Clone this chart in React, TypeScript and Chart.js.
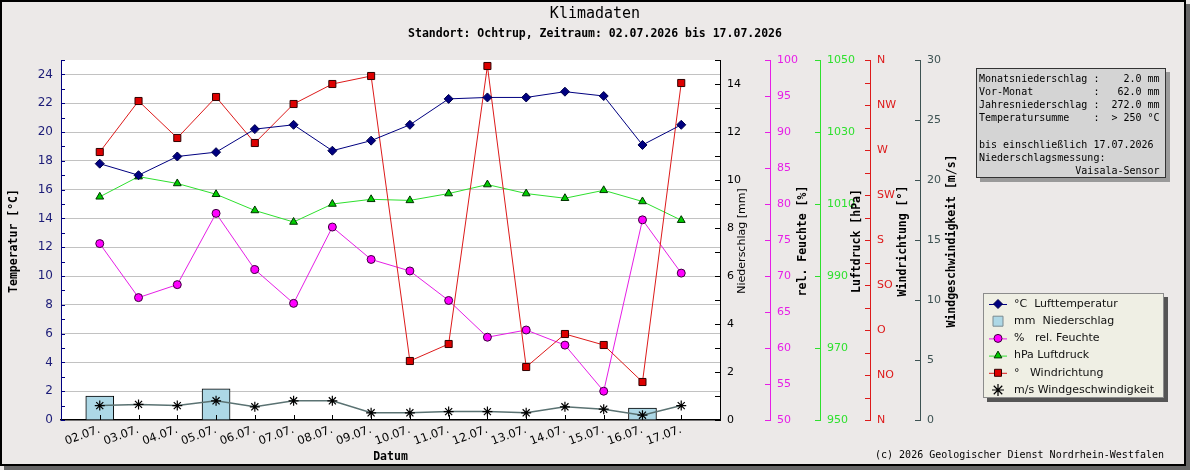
import React, { useEffect, useRef } from 'react';
import { Chart, registerables } from 'chart.js';

Chart.register(...registerables);

// ---- data ----
const TITLE = 'Klimadaten';
const SUBTITLE = 'Standort: Ochtrup, Zeitraum: 02.07.2026 bis 17.07.2026';
const X_TITLE = 'Datum';
const FOOTER = '(c) 2026 Geologischer Dienst Nordrhein-Westfalen';

const DATES = [
  '02.07.', '03.07.', '04.07.', '05.07.', '06.07.', '07.07.', '08.07.', '09.07.',
  '10.07.', '11.07.', '12.07.', '13.07.', '14.07.', '15.07.', '16.07.', '17.07.',
];
const TEMPERATURE = [17.8, 17.0, 18.3, 18.6, 20.2, 20.5, 18.7, 19.4, 20.5, 22.3, 22.4, 22.4, 22.8, 22.5, 19.1, 20.5];
const PRECIP_DAYS = ['02.07.', '05.07.', '16.07.'];
const PRECIP_MM = [1.0, 1.3, 0.5];
const HUMIDITY = [74.5, 67.0, 68.8, 78.7, 70.9, 66.2, 76.8, 72.3, 70.7, 66.6, 61.5, 62.5, 60.4, 54.0, 77.8, 70.4];
const PRESSURE = [1012.0, 1017.6, 1015.7, 1012.7, 1008.2, 1005.0, 1010.0, 1011.3, 1011.0, 1012.9, 1015.4, 1012.9, 1011.6, 1013.8, 1010.7, 1005.5];
const WIND_DIR = [268, 319, 282, 323, 277, 316, 336, 344, 59, 76, 354, 53, 86, 75, 38, 337];
const WIND_SPEED = [1.2, 1.3, 1.2, 1.6, 1.1, 1.6, 1.6, 0.6, 0.6, 0.7, 0.7, 0.6, 1.1, 0.9, 0.4, 1.2];
const DIRECTION_LABELS = ['N', 'NO', 'O', 'SO', 'S', 'SW', 'W', 'NW', 'N'];

const LEGEND_LABELS = [
  '°C  Lufttemperatur',
  'mm  Niederschlag',
  '%   rel. Feuchte',
  'hPa Luftdruck',
  '°   Windrichtung',
  'm/s Windgeschwindigkeit',
];

const INFO_LINES = [
  'Monatsniederschlag :    2.0 mm',
  'Vor-Monat          :   62.0 mm',
  'Jahresniederschlag :  272.0 mm',
  'Temperatursumme    :  > 250 °C',
  '',
  'bis einschließlich 17.07.2026',
  'Niederschlagsmessung:',
  '                Vaisala-Sensor',
];

// ---- styles ----
const W = 1190;
const H = 470;
const BG = '#ece9e8';
const C_TEMP = '#000080';
const C_TEMP_TICK = '#1c1c78';
const C_HUM = '#e61ee6';
const C_PRESS = '#2ee02e';
const C_DIR = '#dd1a1a';
const C_SPEED = '#3d5252';
const SANS = '"DejaVu Sans", sans-serif';
const MONO = '"DejaVu Sans Mono", monospace';
const MONO_BOLD = `bold 11.5px ${MONO}`;

const pts = (vals: number[]) => vals.map((y, i) => ({ x: i, y }));

const framePlugin = {
  id: 'frame',
  beforeDraw(chart: any) {
    const { ctx, chartArea: a } = chart;
    ctx.save();
    ctx.fillStyle = BG;
    ctx.fillRect(0, 0, W, H);
    ctx.fillStyle = '#666666';
    ctx.fillRect(4, 4, W - 4, H - 4);
    ctx.fillStyle = BG;
    ctx.fillRect(0, 0, W - 4, H - 4);
    ctx.strokeStyle = '#000';
    ctx.lineWidth = 2;
    ctx.strokeRect(1, 1, W - 6, H - 6);
    ctx.fillStyle = '#ffffff';
    ctx.fillRect(a.left, a.top, a.right - a.left, a.bottom - a.top);
    ctx.restore();
  },
};

function drawMarker(ctx: CanvasRenderingContext2D, kind: string, x: number, y: number, fill: string, stroke: string) {
  ctx.beginPath();
  if (kind === 'diamond') {
    ctx.moveTo(x - 4.5, y); ctx.lineTo(x, y - 4.5); ctx.lineTo(x + 4.5, y); ctx.lineTo(x, y + 4.5); ctx.closePath();
  } else if (kind === 'circle') {
    ctx.arc(x, y, 4, 0, Math.PI * 2);
  } else if (kind === 'triangle') {
    ctx.moveTo(x, y - 4.5); ctx.lineTo(x + 3.9, y + 2.3); ctx.lineTo(x - 3.9, y + 2.3); ctx.closePath();
  } else if (kind === 'square') {
    ctx.rect(x - 3.5, y - 3.5, 7, 7);
  } else if (kind === 'box') {
    ctx.rect(x - 5, y - 5, 10, 10);
  }
  if (kind === 'star') {
    ctx.strokeStyle = stroke;
    ctx.lineWidth = 1.2;
    for (let k = 0; k < 4; k++) {
      const ang = (k * Math.PI) / 4;
      ctx.moveTo(x - Math.cos(ang) * 6, y - Math.sin(ang) * 6);
      ctx.lineTo(x + Math.cos(ang) * 6, y + Math.sin(ang) * 6);
    }
    ctx.stroke();
    return;
  }
  ctx.fillStyle = fill;
  ctx.fill();
  ctx.strokeStyle = stroke;
  ctx.lineWidth = 1;
  ctx.stroke();
}

const decorPlugin = {
  id: 'decor',
  afterDraw(chart: any) {
    const { ctx, chartArea: a, scales } = chart;
    ctx.save();

    // tick marks on the plot side of every axis line
    const yAxes: [string, string][] = [['yT', C_TEMP], ['yP', '#000'], ['yH', C_HUM], ['yL', C_PRESS], ['yD', C_DIR], ['yS', C_SPEED]];
    ctx.lineWidth = 1;
    yAxes.forEach(([id, color]) => {
      const s = scales[id];
      ctx.strokeStyle = color;
      ctx.beginPath();
      s.ticks.forEach((t: any) => {
        const py = Math.round(s.getPixelForValue(t.value)) + 0.5;
        if (id === 'yT') {
          ctx.moveTo(s.right, py); ctx.lineTo(s.right + 4, py);
        } else {
          ctx.moveTo(s.left - 5, py); ctx.lineTo(s.left, py);
        }
      });
      ctx.stroke();
    });
    const sx = scales.x;
    ctx.strokeStyle = '#000';
    ctx.beginPath();
    DATES.forEach((_, i) => {
      const px = Math.round(sx.getPixelForValue(i)) + 0.5;
      ctx.moveTo(px, a.bottom); ctx.lineTo(px, a.bottom - 5);
    });
    ctx.stroke();

    // titles
    ctx.fillStyle = '#000';
    ctx.textAlign = 'center';
    ctx.textBaseline = 'middle';
    ctx.font = `15px ${MONO}`;
    ctx.fillText(TITLE, W / 2, 14);
    ctx.font = MONO_BOLD;
    ctx.fillText(SUBTITLE, W / 2, 34);
    ctx.fillText(X_TITLE, (a.left + a.right) / 2, 457);

    // axis titles, all reading bottom-to-top
    const cy = (a.top + a.bottom) / 2 + 1;
    const titles: [string, number, string][] = [
      ['Temperatur [°C]', scales.yT.left + 14, MONO_BOLD],
      ['Niederschlag [mm]', scales.yP.left + 22, `11px ${SANS}`],
      ['rel. Feuchte [%]', scales.yH.left + 33, MONO_BOLD],
      ['Luftdruck [hPa]', scales.yL.left + 37, MONO_BOLD],
      ['Windrichtung [°]', scales.yD.left + 33, MONO_BOLD],
      ['Windgeschwindigkeit [m/s]', scales.yS.left + 32, MONO_BOLD],
    ];
    titles.forEach(([text, x, font]) => {
      ctx.save();
      ctx.translate(x, cy);
      ctx.rotate(-Math.PI / 2);
      ctx.font = font;
      ctx.fillText(text, 0, 0);
      ctx.restore();
    });

    // info box
    ctx.fillStyle = '#9a9a9a';
    ctx.fillRect(980, 72, 190, 110);
    ctx.fillStyle = '#d4d4d4';
    ctx.fillRect(976, 68, 190, 110);
    ctx.strokeStyle = '#333';
    ctx.strokeRect(976.5, 68.5, 189, 109);
    ctx.fillStyle = '#000';
    ctx.textAlign = 'left';
    ctx.font = `10px ${MONO}`;
    INFO_LINES.forEach((line, k) => ctx.fillText(line, 979, 79.5 + k * 13.1));

    // legend
    ctx.fillStyle = '#555555';
    ctx.fillRect(987, 297, 181, 105);
    ctx.fillStyle = '#efefe4';
    ctx.fillRect(983, 293, 181, 105);
    ctx.strokeStyle = '#8c8c8c';
    ctx.strokeRect(983.5, 293.5, 180, 104);
    const markers: [string, string, string, string | null][] = [
      ['diamond', C_TEMP, '#00004a', C_TEMP],
      ['box', '#add8e6', '#7a8a90', null],
      ['circle', '#ff00ff', '#3a003a', C_HUM],
      ['triangle', '#00cc00', '#003300', C_PRESS],
      ['square', '#dd0000', '#300000', C_DIR],
      ['star', '#000', '#000', null],
    ];
    LEGEND_LABELS.forEach((label, k) => {
      const y = 304 + k * 17.2;
      const [kind, fill, stroke, line] = markers[k];
      if (line) {
        ctx.strokeStyle = line;
        ctx.lineWidth = 1;
        ctx.beginPath();
        ctx.moveTo(989, y + 0.5); ctx.lineTo(1007, y + 0.5);
        ctx.stroke();
      }
      drawMarker(ctx, kind, 998, y, fill, stroke);
      ctx.fillStyle = '#111';
      ctx.font = `11px ${SANS}`;
      ctx.textAlign = 'left';
      ctx.fillText(label, 1014, y);
    });

    // footer
    ctx.fillStyle = '#000';
    ctx.font = `10px ${MONO}`;
    ctx.textAlign = 'right';
    ctx.fillText(FOOTER, 1164, 455);

    ctx.restore();
  },
};

function rightAxis(weight: number, min: number, max: number, step: number, color: string, label: (v: number) => string) {
  return {
    type: 'linear' as const,
    position: 'right' as const,
    weight,
    min,
    max,
    ticks: {
      stepSize: step,
      autoSkip: false,
      padding: 7,
      color,
      font: { family: SANS, size: 11 },
      callback: (v: any) => label(Number(v)),
    },
    grid: { drawOnChartArea: false, drawTicks: false },
    border: { color, width: 1 },
    afterFit: (s: any) => { s.width = 50; },
  };
}

export default function App() {
  const canvasRef = useRef<HTMLCanvasElement | null>(null);

  useEffect(() => {
    const canvas = canvasRef.current;
    if (!canvas) return;
    const chart = new Chart(canvas, {
      type: 'line',
      data: {
        datasets: [
          {
            type: 'line', label: 'Lufttemperatur', data: pts(TEMPERATURE), yAxisID: 'yT',
            borderColor: C_TEMP, borderWidth: 1, tension: 0,
            pointStyle: 'rectRot', pointRadius: 4.5, pointBackgroundColor: C_TEMP, pointBorderColor: '#00004a', pointBorderWidth: 1,
          },
          {
            type: 'line', label: 'Windrichtung', data: pts(WIND_DIR), yAxisID: 'yD',
            borderColor: C_DIR, borderWidth: 1, tension: 0,
            pointStyle: 'rect', pointRadius: 5, pointBackgroundColor: '#dd0000', pointBorderColor: '#300000', pointBorderWidth: 1,
          },
          {
            type: 'line', label: 'rel. Feuchte', data: pts(HUMIDITY), yAxisID: 'yH',
            borderColor: C_HUM, borderWidth: 1, tension: 0,
            pointStyle: 'circle', pointRadius: 4, pointBackgroundColor: '#ff00ff', pointBorderColor: '#3a003a', pointBorderWidth: 1,
          },
          {
            type: 'line', label: 'Luftdruck', data: pts(PRESSURE), yAxisID: 'yL',
            borderColor: C_PRESS, borderWidth: 1, tension: 0,
            pointStyle: 'triangle', pointRadius: 4.5, pointBackgroundColor: '#00cc00', pointBorderColor: '#003300', pointBorderWidth: 1,
          },
          {
            type: 'line', label: 'Windgeschwindigkeit', data: pts(WIND_SPEED), yAxisID: 'yS',
            borderColor: '#5a7272', borderWidth: 1.5, tension: 0,
            pointStyle: 'star', pointRadius: 5, pointBackgroundColor: '#000', pointBorderColor: '#000', pointBorderWidth: 1.2,
          },
          {
            type: 'bar', label: 'Niederschlag', yAxisID: 'yP',
            data: PRECIP_DAYS.map((d, k) => ({ x: DATES.indexOf(d), y: PRECIP_MM[k] })),
            backgroundColor: '#add8e6', borderColor: '#000', borderWidth: 1, barThickness: 28,
          },
        ] as any,
      },
      options: {
        responsive: false,
        animation: false,
        devicePixelRatio: 1,
        events: [],
        layout: { padding: { left: 0, top: 60, right: 220, bottom: 0 } },
        plugins: { legend: { display: false }, tooltip: { enabled: false }, title: { display: false } },
        scales: {
          x: {
            type: 'linear',
            position: 'bottom',
            offset: false,
            min: -1,
            max: 16,
            ticks: {
              stepSize: 1,
              autoSkip: false,
              minRotation: 20,
              maxRotation: 20,
              padding: 3,
              color: '#000',
              font: { family: SANS, size: 11.5 },
              callback: (v: any) => DATES[Math.round(Number(v))] ?? '',
            },
            grid: { drawOnChartArea: false, drawTicks: false, offset: false },
            border: { color: '#000', width: 1.5 },
            afterFit: (s: any) => { s.height = 50; },
          },
          yT: {
            type: 'linear',
            position: 'left',
            min: 0,
            max: 25,
            ticks: {
              stepSize: 1,
              autoSkip: false,
              padding: 8,
              color: C_TEMP_TICK,
              font: { family: SANS, size: 12 },
              callback: (v: any) => (Number(v) % 2 === 0 ? String(v) : ''),
            },
            grid: {
              drawTicks: false,
              lineWidth: 1,
              color: (c: any) => (c.tick && c.tick.value > 0 && c.tick.value % 2 === 0 ? '#c2c2c2' : 'rgba(0,0,0,0)'),
            },
            border: { color: C_TEMP, width: 1 },
            afterFit: (s: any) => { s.width = 61; },
          },
          yP: rightAxis(1, 0, 15, 1, '#000', (v) => (v % 2 === 0 ? String(v) : '')),
          yH: rightAxis(2, 50, 100, 5, C_HUM, (v) => String(v)),
          yL: rightAxis(3, 950, 1050, 20, C_PRESS, (v) => String(v)),
          yD: rightAxis(4, 0, 360, 22.5, C_DIR, (v) => (v % 45 === 0 ? DIRECTION_LABELS[v / 45] : '')),
          yS: rightAxis(5, 0, 30, 5, C_SPEED, (v) => String(v)),
        } as any,
      },
      plugins: [framePlugin, decorPlugin],
    });
    return () => chart.destroy();
  }, []);

  return (
    <div style={{ position: 'absolute', left: 0, top: 0, width: W, height: H }}>
      <canvas ref={canvasRef} width={W} height={H} style={{ width: W, height: H, display: 'block' }} />
    </div>
  );
}
